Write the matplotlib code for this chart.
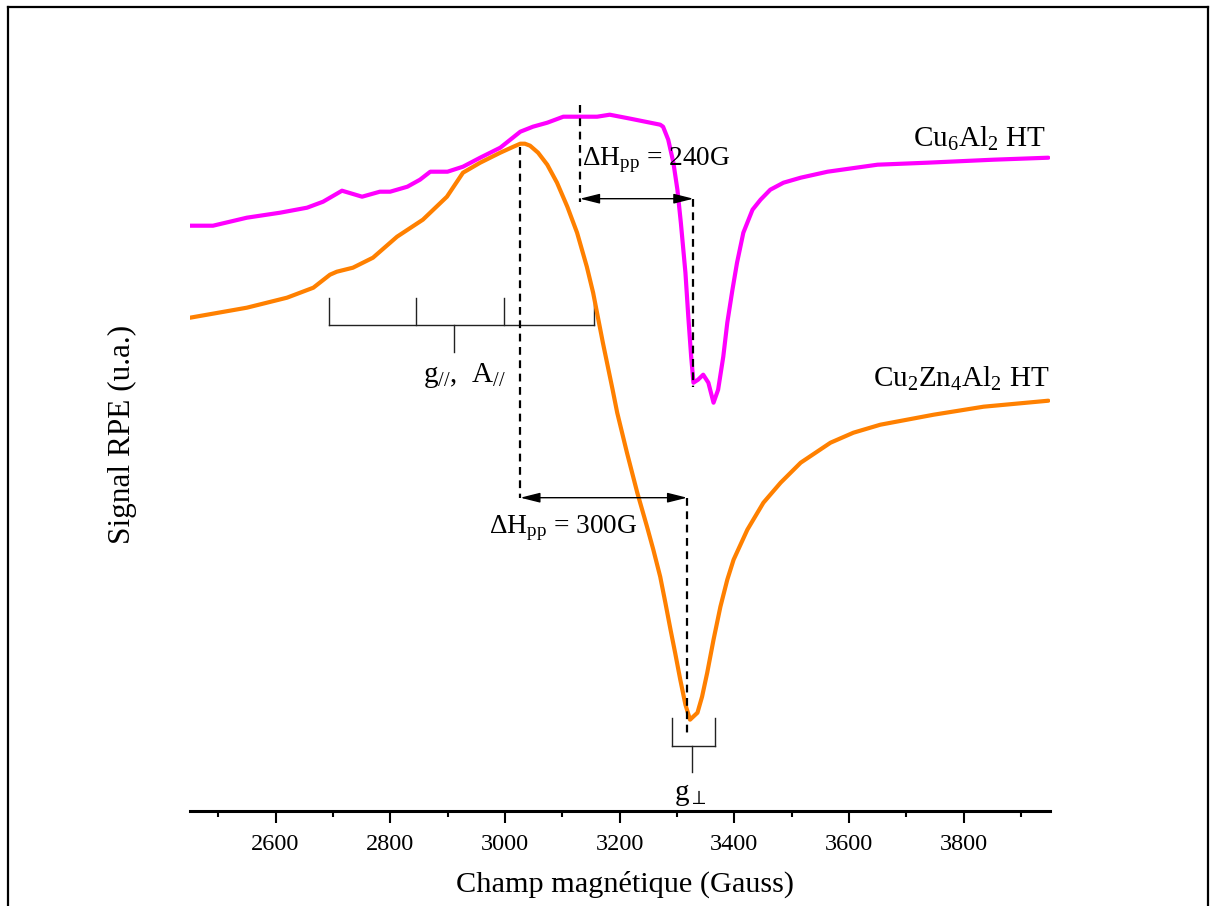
import matplotlib
matplotlib.use("Agg")
import matplotlib.pyplot as plt
from matplotlib.lines import Line2D
from matplotlib.ticker import MultipleLocator

plt.rcParams['font.family'] = ['Liberation Serif', 'DejaVu Serif']
plt.rcParams['mathtext.fontset'] = 'stix'
plt.rcParams['mathtext.default'] = 'regular'

# ---- data (field in Gauss, EPR signal in arbitrary units) ----
field_cu6 = [2451, 2491, 2550, 2608, 2655, 2683, 2716, 2751, 2782, 2800, 2830, 2852,
             2870, 2900, 2927, 2957, 2992, 3027, 3049, 3074, 3102, 3131, 3161, 3183,
             3219, 3271, 3276, 3285, 3294, 3301, 3307, 3315, 3320, 3325, 3329, 3337,
             3346, 3355, 3364, 3372, 3381, 3388, 3397, 3405, 3416, 3432, 3446, 3463,
             3486, 3516, 3563, 3650, 3737, 3852, 3948]
signal_cu6 = [585, 585, 593, 598, 603, 609, 620, 614, 619, 619, 624, 631,
              639, 639, 644, 653, 663, 679, 684, 688, 694, 694, 694, 696,
              692, 686, 684, 671, 648, 621, 588, 538, 494, 454, 428, 431,
              436, 428, 408, 421, 454, 488, 521, 548, 578, 601, 611, 621,
              628, 633, 639, 646, 648, 651, 653]

field_cuzn = [2451, 2550, 2620, 2666, 2695, 2707, 2735, 2770, 2812, 2857, 2899, 2927,
              2957, 2992, 3015, 3027, 3035, 3044, 3058, 3074, 3091, 3109, 3126, 3143,
              3154, 3171, 3188, 3196, 3213, 3231, 3248, 3259, 3271, 3280, 3289, 3297,
              3306, 3315, 3323, 3336, 3344, 3353, 3364, 3376, 3388, 3399, 3423, 3451,
              3481, 3516, 3568, 3608, 3655, 3748, 3835, 3948]
signal_cuzn = [493, 503, 513, 523, 536, 539, 543, 553, 574, 591, 614, 638,
               648, 658, 664, 667, 667, 665, 658, 646, 628, 604, 578, 544,
               518, 468, 421, 398, 358, 318, 284, 261, 234, 208, 181, 158,
               131, 106, 91, 98, 114, 138, 171, 204, 231, 251, 281, 308,
               328, 348, 368, 378, 386, 396, 404, 410]

series_labels = [r"Cu$_{6}$Al$_{2}$ HT", r"Cu$_{2}$Zn$_{4}$Al$_{2}$ HT"]
dHpp_labels = [r"ΔH$_{pp}$ = 240G", r"ΔH$_{pp}$ = 300G"]
xticks_major = [2600, 2800, 3000, 3200, 3400, 3600, 3800]

W, H = 1213, 906
fig = plt.figure(figsize=(W / 100, H / 100), dpi=100)
ax_l, ax_r, ax_b, ax_t = 189.5, 1049.5, 810.7, 90.0
ax = fig.add_axes([ax_l / W, 1 - ax_b / H, (ax_r - ax_l) / W, (ax_b - ax_t) / H])
ax.set_xlim(2450, 3950)
ax.set_ylim(0, ax_b - ax_t)

magenta = '#FF00FF'
orange = '#FF8000'
ax.plot(field_cu6, signal_cu6, color=magenta, lw=3.0, solid_joinstyle='round',
        solid_capstyle='round', zorder=3)
ax.plot(field_cuzn, signal_cuzn, color=orange, lw=3.0, solid_joinstyle='round',
        solid_capstyle='round', zorder=3)

# spines / ticks
for s in ['left', 'right', 'top']:
    ax.spines[s].set_visible(False)
ax.spines['bottom'].set_linewidth(2.2)
ax.set_yticks([])
ax.set_xticks(xticks_major)
ax.xaxis.set_minor_locator(MultipleLocator(100))
ax.tick_params(axis='x', which='major', direction='out', length=8.6, width=1.5,
               labelsize=17.5, pad=8.5)
ax.tick_params(axis='x', which='minor', direction='out', length=4, width=1.5)
ax.set_xlabel("Champ magnétique (Gauss)", fontsize=21.8, labelpad=11)
ax.set_ylabel("Signal RPE (u.a.)", fontsize=22.5, labelpad=38)
ax.xaxis.label.set_x((625 - ax_l) / (ax_r - ax_l))
ax.yaxis.label.set_y((ax_b - 434) / (ax_b - ax_t))

# curve labels
ax.text(3944, 664, series_labels[0], fontsize=21, ha='right', va='baseline')
ax.text(3950, 424, series_labels[1], fontsize=21, ha='right', va='baseline')

dash = dict(color='black', lw=1.6, ls=(0, (3.5, 2.5)), zorder=4)
arrow = dict(arrowstyle='<|-|>,head_length=1.2,head_width=0.3', color='black', lw=1.0,
             shrinkA=0, shrinkB=0, mutation_scale=10)
# 240G annotation
ax.plot([3131, 3131], [706, 609], **dash)
ax.plot([3329, 3329], [612, 424], **dash)
ax.annotate('', xy=(3329, 612), xytext=(3131, 612), arrowprops=arrow, zorder=5)
ax.text(3135, 646, dHpp_labels[0], fontsize=19.7, ha='left', va='baseline')

# 300G annotation
ax.plot([3027, 3027], [664, 313], **dash)
ax.plot([3318, 3318], [313, 74], **dash)
ax.annotate('', xy=(3318, 313), xytext=(3027, 313), arrowprops=arrow, zorder=5)
ax.text(2973, 278, dHpp_labels[1], fontsize=19.7, ha='left', va='baseline')

# g// bracket
br = dict(color='#222222', lw=1.0, zorder=2)
ax.plot([2694, 3155], [486, 486], **br)
for xb in [2694, 2845, 2999, 3155]:
    ax.plot([xb, xb], [486, 513], **br)
ax.plot([2912, 2912], [486, 459], **br)
ax.text(2858, 429, r"g$_{//}$,  A$_{//}$", fontsize=21, ha='left', va='baseline')

# g perp bracket
ax.plot([3292, 3367], [65, 65], **br)
for xb in [3292, 3367]:
    ax.plot([xb, xb], [65, 93], **br)
ax.plot([3327, 3327], [65, 39], **br)
ax.text(3323, 11, r"g$_{\perp}$", fontsize=21, ha='center', va='baseline')

# frame around the figure
fl = dict(color='black', lw=1.6, transform=fig.transFigure, clip_on=False)
x0, x1, y1 = 7.5 / W, 1208 / W, 1 - 6.5 / H
fig.add_artist(Line2D([x0, x0], [-0.01, y1], **fl))
fig.add_artist(Line2D([x0, x1], [y1, y1], **fl))
fig.add_artist(Line2D([x1, x1], [-0.01, y1], **fl))

fig.savefig("out.png", dpi=100)
